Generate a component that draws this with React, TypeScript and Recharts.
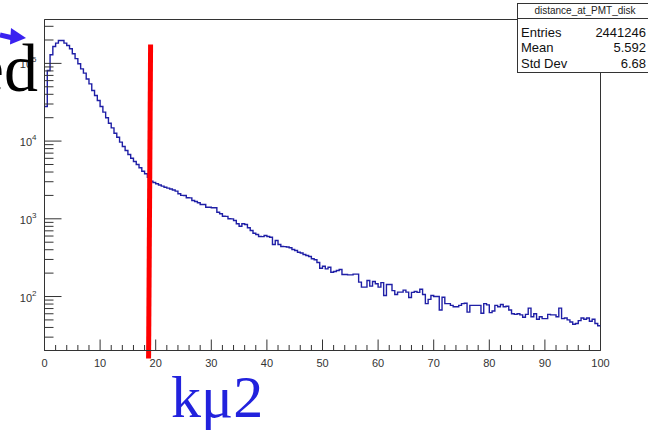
import React from 'react';
import { LineChart, Line, XAxis, YAxis, ReferenceLine, ReferenceArea } from 'recharts';

// histogram: 200 bins of 0.5 over [0, 100]
const BIN_WIDTH = 0.5;
const binCounts = [
  27900, 81000, 129000, 165000, 182000, 197000, 197000, 182000, 170000, 154000,
  133000, 115000, 99000, 85000, 75000, 63000, 54500, 44800, 38600, 33300,
  27900, 23600, 20000, 17000, 14800, 12600, 11200, 9700, 8520, 7570,
  6720, 6020, 5460, 5000, 4530, 4100, 3800, 3430, 3050, 2930,
  2820, 2720, 2630, 2550, 2480, 2420, 2350, 2270, 2100, 2000,
  1995, 1865, 1860, 1720, 1670, 1610, 1530, 1525, 1410, 1410,
  1390, 1385, 1215, 1160, 1080, 1075, 1000, 998, 951, 862,
  803, 862, 845, 766, 707, 653, 628, 592, 590, 610,
  592, 580, 467, 526, 467, 440, 438, 434, 424, 403,
  391, 372, 363, 347, 337, 327, 306, 297, 274, 231,
  245, 227, 238, 205, 210, 216, 223, 192, 192, 190,
  190, 194, 194, 153, 132, 132, 161, 136, 156, 146,
  132, 151, 103, 143, 143, 119, 106, 114, 114, 121,
  114, 97, 113, 116, 113, 124, 106, 81, 92, 103,
  100, 100, 67, 98, 81, 81, 77, 74, 74, 77,
  81, 82, 63, 77, 77, 77, 77, 61, 81, 78,
  62, 65, 77, 74, 79, 74, 75, 67, 60, 59,
  60, 58, 54, 59, 71, 55, 60, 51, 55, 52,
  52, 59, 58, 58, 55, 71, 52, 53, 50, 47,
  44, 45, 49, 53, 51, 53, 48, 51, 45, 42,
];

const xTickLabels = ['0', '10', '20', '30', '40', '50', '60', '70', '80', '90', '100'];
const yDecades = [100, 1000, 10000, 100000];
const yExponents = ['2', '3', '4', '5'];
const Y_MIN = 20.2;
const Y_MAX = 367000;

const statsTitle = 'distance_at_PMT_disk';
const statsNames = ['Entries', 'Mean', 'Std Dev'];
const statsValues = ['2441246', '5.592', '6.68'];

// hand drawn cut line (top point, bottom point)
const cutLine = [
  { x: 19.08, y: 175000 },
  { x: 18.72, y: 15.9 },
];

const histData = binCounts.map((c, i) => ({ x: i * BIN_WIDTH, count: c }));
histData.push({ x: binCounts.length * BIN_WIDTH, count: binCounts[binCounts.length - 1] });

// major every 10, minor every 2
const xTicks: number[] = [];
xTickLabels.forEach((l, i) => {
  const v = Number(l);
  xTicks.push(v);
  if (i < xTickLabels.length - 1) [2, 4, 6, 8].forEach((m) => xTicks.push(v + m));
});

const yTicks: number[] = [];
[10, 100, 1000, 10000, 100000].forEach((d) => {
  for (let m = 1; m <= 9; m++) {
    const v = m * d;
    if (v >= Y_MIN && v <= Y_MAX) yTicks.push(v);
  }
});

const FONT = '"Liberation Sans", Arial, Helvetica, sans-serif';
const SERIF = '"Liberation Serif", "Times New Roman", serif';
const AXIS = '#333';

const XTick = (props: any) => {
  const { x, y, payload } = props;
  const major = payload.value % 10 === 0;
  return (
    <g>
      <line x1={x} x2={x} y1={y} y2={y - (major ? 11 : 5.5)} stroke={AXIS} />
      {major && (
        <text x={x} y={y + 16} textAnchor="middle" fontSize={11} fill="#333" fontFamily={FONT}>
          {payload.value}
        </text>
      )}
    </g>
  );
};

const YTick = (props: any) => {
  const { x, y, payload } = props;
  const idx = yDecades.indexOf(payload.value);
  const major = idx >= 0;
  return (
    <g>
      <line x1={x} x2={x + (major ? 17 : 9)} y1={y} y2={y} stroke={AXIS} />
      {major && (
        <text x={x - 8} y={y + 5} textAnchor="end" fontSize={11} fill="#333" fontFamily={FONT}>
          10
          <tspan dy={-6} fontSize={8}>{yExponents[idx]}</tspan>
        </text>
      )}
    </g>
  );
};

export default function App() {
  return (
    <div style={{ position: 'absolute', left: 0, top: 0, width: 648, height: 432, background: '#fff', overflow: 'hidden' }}>
      <LineChart
        width={648}
        height={432}
        data={histData}
        margin={{ top: 19.5, right: 47.5, bottom: 51.5, left: 4.5 }}
      >
        <XAxis
          dataKey="x"
          type="number"
          domain={[0, 100]}
          ticks={xTicks}
          interval={0}
          tickSize={0}
          tickMargin={0}
          height={30}
          stroke={AXIS}
          tick={<XTick />}
          allowDataOverflow
        />
        <YAxis
          type="number"
          scale="log"
          domain={[Y_MIN, Y_MAX]}
          ticks={yTicks}
          interval={0}
          tickSize={0}
          tickMargin={0}
          width={40}
          stroke={AXIS}
          tick={<YTick />}
          allowDataOverflow
        />
        <ReferenceArea x1={0} x2={100} y1={Y_MIN} y2={Y_MAX} fill="none" stroke={AXIS} ifOverflow="visible" />
        <Line
          type="stepAfter"
          dataKey="count"
          stroke="#1f1fa6"
          strokeWidth={1.4}
          dot={false}
          isAnimationActive={false}
        />
        <ReferenceLine segment={cutLine} stroke="#ff0000" strokeWidth={5} ifOverflow="visible" />
      </LineChart>

      <svg width={648} height={432} style={{ position: 'absolute', left: 0, top: 0, pointerEvents: 'none' }}>
        {/* stats box */}
        <rect x={517.5} y={3.5} width={140} height={69} fill="#fff" stroke={AXIS} />
        <line x1={517.5} x2={648} y1={18.5} y2={18.5} stroke={AXIS} />
        <text x={585} y={14} textAnchor="middle" fontSize={10} fill="#222" fontFamily={FONT}>
          {statsTitle}
        </text>
        {statsNames.map((n, i) => (
          <g key={n}>
            <text x={521} y={36.5 + i * 15.5} fontSize={13} fill="#111" fontFamily={FONT}>{n}</text>
            <text x={646} y={36.5 + i * 15.5} textAnchor="end" fontSize={13} fill="#111" fontFamily={FONT}>
              {statsValues[i]}
            </text>
          </g>
        ))}

        {/* slide annotations */}
        <line x1={0} y1={35} x2={15} y2={38.5} stroke="#3a22f0" strokeWidth={5} />
        <polygon points="11,28 26,38 10,44.5" fill="#3a22f0" />
        <text x={38} y={91} textAnchor="end" fontSize={68} fill="#000" fontFamily={SERIF}>ed</text>
        <text x={171} y={417} fontSize={60} fill="#2222dd" fontFamily={SERIF}>kμ2</text>
      </svg>
    </div>
  );
}
